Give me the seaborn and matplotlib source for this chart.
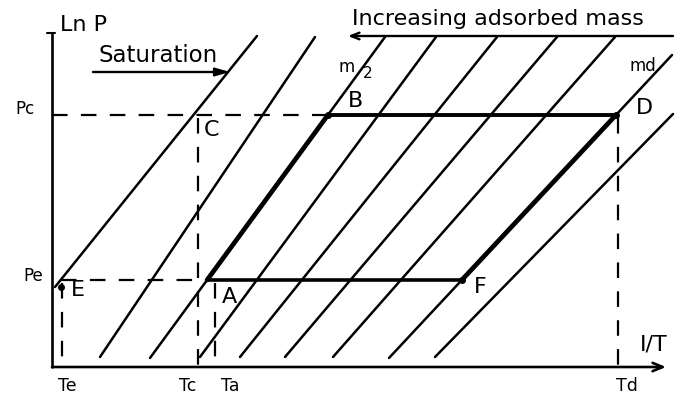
import numpy as np
import pandas as pd
import matplotlib
matplotlib.use("Agg")
import matplotlib.pyplot as plt
import seaborn as sns

# Isosteres on the Clapeyron diagram (ln P versus 1/T, arbitrary units).
# Each line is given by its lower and upper end point.
iso_names = ["sat", "m1", "m2", "m3", "m4", "m5", "m6", "md", "m8"]
iso_x_low = [0.3, 4.8, 9.8, 14.8, 18.8, 23.3, 28.1, 33.7, 38.3]
iso_y_low = [8.0, 1.0, 0.9, 1.0, 1.0, 1.0, 1.0, 0.9, 1.0]
iso_x_high = [20.5, 26.3, 33.3, 38.4, 44.5, 50.5, 56.3, 62.0, 62.1]
iso_y_high = [33.1, 33.0, 33.0, 33.0, 33.0, 33.0, 33.0, 31.2, 25.3]

# Pressure levels (ln P) of evaporator and condenser
lnP_e = 8.7
lnP_c = 25.2

# Temperature marks on the 1/T axis
temp_labels = ["Te", "Tc", "Ta", "Td"]
temp_x = [1.0, 14.6, 16.3, 56.6]
temp_level = [lnP_e, lnP_c, lnP_e, lnP_c]

sns.set_theme(style="white")
plt.rcParams["font.family"] = ["DejaVu Sans"]
plt.rcParams["text.color"] = "black"

fig = plt.figure(figsize=(6.75, 3.96), dpi=100)
ax = fig.add_axes([0, 0, 1, 1])
ax.set_xlim(-5.2, 62.3)
ax.set_ylim(-2.9, 36.7)
ax.axis("off")

rows = []
for name, x0, y0, x1, y1 in zip(iso_names, iso_x_low, iso_y_low, iso_x_high, iso_y_high):
    rows.append({"line": name, "x": x0, "y": y0})
    rows.append({"line": name, "x": x1, "y": y1})
iso = pd.DataFrame(rows)

sns.lineplot(data=iso, x="x", y="y", units="line", estimator=None, sort=False,
             color="black", lw=1.8, legend=False, ax=ax)


def x_on(name, level):
    i = iso_names.index(name)
    x0, y0, x1, y1 = iso_x_low[i], iso_y_low[i], iso_x_high[i], iso_y_high[i]
    return x0 + (level - y0) * (x1 - x0) / (y1 - y0)


E = (x_on("sat", lnP_e), lnP_e)
C = (x_on("sat", lnP_c), lnP_c)
A = (x_on("m2", lnP_e), lnP_e)
B = (x_on("m2", lnP_c), lnP_c)
D = (x_on("md", lnP_c), lnP_c)
F = (x_on("md", lnP_e), lnP_e)

dash = (0, (7, 6))
# dashed pressure levels
ax.plot([0, B[0]], [lnP_c, lnP_c], color="black", lw=1.6, ls=dash)
ax.plot([E[0], A[0]], [lnP_e, lnP_e], color="black", lw=1.6, ls=dash)
# dashed temperature drops
for tx, lvl in zip(temp_x, temp_level):
    ax.plot([tx, tx], [lvl - 0.3, 0], color="black", lw=1.6, ls=dash)

# cycle A-B-D-F
ax.plot([A[0], B[0]], [A[1], B[1]], color="black", lw=3.4, solid_capstyle="round")
ax.plot([F[0], D[0]], [F[1], D[1]], color="black", lw=3.4, solid_capstyle="round")
ax.plot([B[0], D[0]], [B[1], D[1]], color="black", lw=2.8)
ax.plot([A[0], F[0]], [A[1], F[1]], color="black", lw=2.6)
ax.plot([B[0], D[0], F[0], E[0]], [B[1], D[1], F[1], E[1] - 0.7], ls="none",
        marker="o", ms=4, color="black")

# axes
ax.plot([0, 0], [0, 33.3], color="black", lw=1.9)
ax.plot([-0.5, 0.3], [33.4, 33.4], color="black", lw=1.5)
ax.annotate("", xy=(61.4, 0), xytext=(0, 0),
            arrowprops=dict(arrowstyle="->,head_length=0.6,head_width=0.25",
                            color="black", lw=1.9, shrinkA=0, shrinkB=0))

# arrows
ax.annotate("", xy=(17.8, 29.5), xytext=(4.1, 29.5),
            arrowprops=dict(arrowstyle="-|>,head_length=0.7,head_width=0.2",
                            color="black", lw=1.7, shrinkA=0, shrinkB=0))
ax.annotate("", xy=(29.6, 33.1), xytext=(62.1, 33.1),
            arrowprops=dict(arrowstyle="->,head_length=0.5,head_width=0.2",
                            color="black", lw=1.7, shrinkA=0, shrinkB=0))

# texts
ax.text(0.8, 34.2, "Ln P", fontsize=16, ha="left", va="center")
ax.text(10.6, 31.2, "Saturation", fontsize=16.5, ha="center", va="center")
ax.text(44.6, 34.8, "Increasing adsorbed mass", fontsize=16, ha="center", va="center")
ax.text(29.5, 30.0, "m", fontsize=12, ha="center", va="center")
ax.text(31.6, 29.3, "2", fontsize=11, ha="center", va="center")
ax.text(59.1, 30.1, "md", fontsize=12, ha="center", va="center")
ax.text(60.2, 2.3, "I/T", fontsize=16, ha="center", va="center")
ax.text(-2.7, 25.8, "Pc", fontsize=12, ha="center", va="center")
ax.text(-1.9, 9.1, "Pe", fontsize=12, ha="center", va="center")

point_labels = [("A", A, (22, -17)), ("B", B, (28, 14)), ("C", C, (18, -15)),
                ("D", D, (28, 7)), ("E", E, (17, -10)), ("F", F, (18, -7))]
for lab, pt, off in point_labels:
    ax.annotate(lab, xy=pt, xytext=off, textcoords="offset pixels",
                fontsize=16, ha="center", va="center")

label_shift = [0.5, -1.0, 1.5, 0.9]
for lab, tx, sh in zip(temp_labels, temp_x, label_shift):
    ax.text(tx + sh, -1.9, lab, fontsize=12.5, ha="center", va="center")

fig.savefig("out.png", dpi=100, facecolor="white")
